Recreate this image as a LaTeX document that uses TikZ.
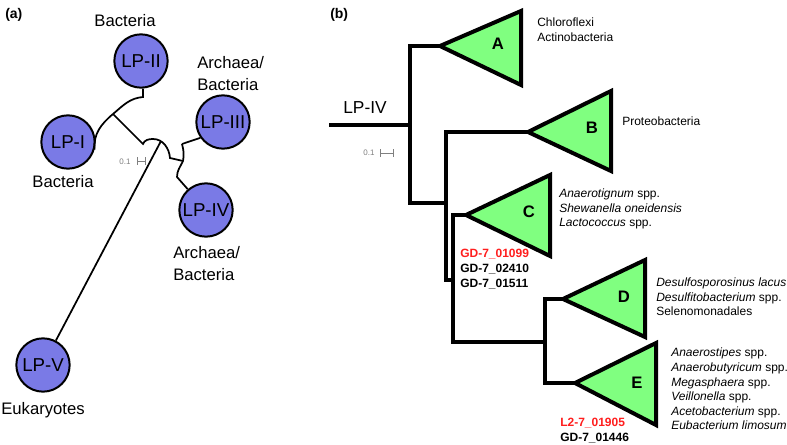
\documentclass[tikz,border=0pt]{standalone}
\usepackage{fontspec}
\setmainfont{Liberation Sans}
\usepackage{tikz}

\definecolor{lpblue}{RGB}{122,122,230}
\definecolor{cladegreen}{RGB}{128,255,128}
\definecolor{hitred}{RGB}{255,30,30}

\begin{document}
\begin{tikzpicture}[x=0.75pt, y=0.75pt,
	lp/.style = {circle, draw, line width=1.5pt, fill=lpblue, minimum size=40pt,
		inner sep=0pt, font=\fontsize{14}{16}\selectfont},
	group/.style = {align=left, inner sep=0pt, font=\fontsize{12.5}{16.5}\selectfont},
	branch/.style = {line width=1.3pt},
	tree/.style = {line width=3pt},
	clade/.style = {draw, line width=3pt, fill=cladegreen},
	cladename/.style = {inner sep=0pt, font=\fontsize{12.5}{15}\selectfont\bfseries},
	taxa/.style = {align=left, anchor=west, inner sep=0pt, font=\fontsize{9}{10.9}\selectfont},
	gene/.style = {align=left, anchor=west, inner sep=0pt, font=\fontsize{9}{11.25}\selectfont\bfseries},
	scalebar/.style = {gray, line width=0.5pt, |-|},
	scalename/.style = {gray, inner sep=0pt, font=\fontsize{6}{7}\selectfont},
	panel/.style = {anchor=west, inner sep=0pt, font=\fontsize{10.5}{12}\selectfont\bfseries}]
	\useasboundingbox (0,0) rectangle (787,-445);

	% (a) unrooted tree of the five groups
	\node[panel] (pa) at (5,-15) {(a)};
	\node[lp] (LPI) at (68,-142) {LP-I};
	\node[lp] (LPII) at (141,-61) {LP-II};
	\node[lp] (LPIII) at (223,-122) {LP-III};
	\node[lp] (LPIV) at (206,-210) {LP-IV};
	\node[lp] (LPV) at (43,-365) {LP-V};
	\node[group] (tLPII) at (125,-21) {Bacteria};
	\node[group] (tLPI) at (63,-182) {Bacteria};
	\node[group, anchor=west] (tLPIII) at (197,-74) {Archaea/\\Bacteria};
	\node[group, anchor=west] (tLPIV) at (173,-264) {Archaea/\\Bacteria};
	\node[group] (tLPV) at (43,-410) {Eukaryotes};

	\coordinate (j0) at (143,-97);
	\coordinate (j1) at (113,-114);
	\coordinate (j2) at (143,-144);
	\coordinate (jtop) at (153,-139);
	\coordinate (j3) at (161,-141);
	\coordinate (j4) at (170,-158);
	\coordinate (j5) at (182,-144);
	\coordinate (j6) at (183,-161);
	\coordinate (j7) at (177,-177);
	\draw[branch] (LPII.-86) -- (j0) to[out=185,in=40] (j1) to[out=220,in=95] (LPI.-16);
	\draw[branch] (j1) -- (j2) to[out=70,in=180] (jtop) to[out=0,in=95] (j4) -- (j6);
	\draw[branch] (j3) -- (LPV);
	\draw[branch] (j5) -- (LPIII.215);
	\draw[branch] (j5) to[out=-75,in=80] (j6) to[out=245,in=90] (j7) -- (LPIV);

	\node[scalename] (sa) at (125,-162) {0.1};
	\draw[scalebar] (137,-161) -- (146,-161);

	% (b) tree of LP-IV with collapsed clades
	\node[panel] (pb) at (330,-15) {(b)};
	\node[group, font=\fontsize{13}{15}\selectfont] (rootname) at (365,-108) {LP-IV};
	\coordinate (root) at (329,-125);
	\coordinate (v0) at (410,-125);
	\coordinate (A) at (440,-46);
	\coordinate (B) at (528,-132);
	\coordinate (C) at (466,-215);
	\coordinate (D) at (563,-299);
	\coordinate (E) at (575,-383);

	\draw[tree] (root) -- (v0);
	\draw[tree] (A) -| (410,-203) -- (446,-203);
	\draw[tree] (B) -| (446,-280) -- (453,-280);
	\draw[tree] (C) -| (453,-342) -- (545,-342);
	\draw[tree] (D) -| (545,-383) -- (E);

	\draw[clade] (A) -- ++(81,35) -- ++(0,-74) -- cycle;
	\draw[clade] (B) -- ++(83,41) -- ++(0,-80) -- cycle;
	\draw[clade] (C) -- ++(84,40) -- ++(0,-81) -- cycle;
	\draw[clade] (D) -- ++(82,39) -- ++(0,-77) -- cycle;
	\draw[clade] (E) -- ++(81,40) -- ++(0,-82) -- cycle;
	\node[cladename] (nA) at (498,-44) {A};
	\node[cladename] (nB) at (592,-128) {B};
	\node[cladename] (nC) at (529,-212) {C};
	\node[cladename] (nD) at (624,-297) {D};
	\node[cladename] (nE) at (637,-383) {E};

	\node[taxa] (xA) at (537,-29.5) {Chloroflexi\\Actinobacteria};
	\node[taxa] (xB) at (622,-121) {Proteobacteria};
	\node[taxa] (xC) at (559,-209) {\textit{Anaerotignum} spp.\\\textit{Shewanella oneidensis}\\\textit{Lactococcus} spp.};
	\node[taxa] (xD) at (656,-297) {\textit{Desulfosporosinus lacus}\\\textit{Desulfitobacterium} spp.\\Selenomonadales};
	\node[taxa] (xE) at (671,-389) {\textit{Anaerostipes} spp.\\\textit{Anaerobutyricum} spp.\\\textit{Megasphaera} spp.\\\textit{Veillonella} spp.\\\textit{Acetobacterium} spp.\\\textit{Eubacterium limosum}};

	\node[gene] (gC) at (460,-269) {\textcolor{hitred}{GD-7\_01099}\\GD-7\_02410\\GD-7\_01511};
	\node[gene] (gE) at (560,-430.5) {\textcolor{hitred}{L2-7\_01905}\\GD-7\_01446};

	\node[scalename] (sb) at (369,-153) {0.1};
	\draw[scalebar] (380,-153) -- (394,-153);
\end{tikzpicture}
\end{document}
